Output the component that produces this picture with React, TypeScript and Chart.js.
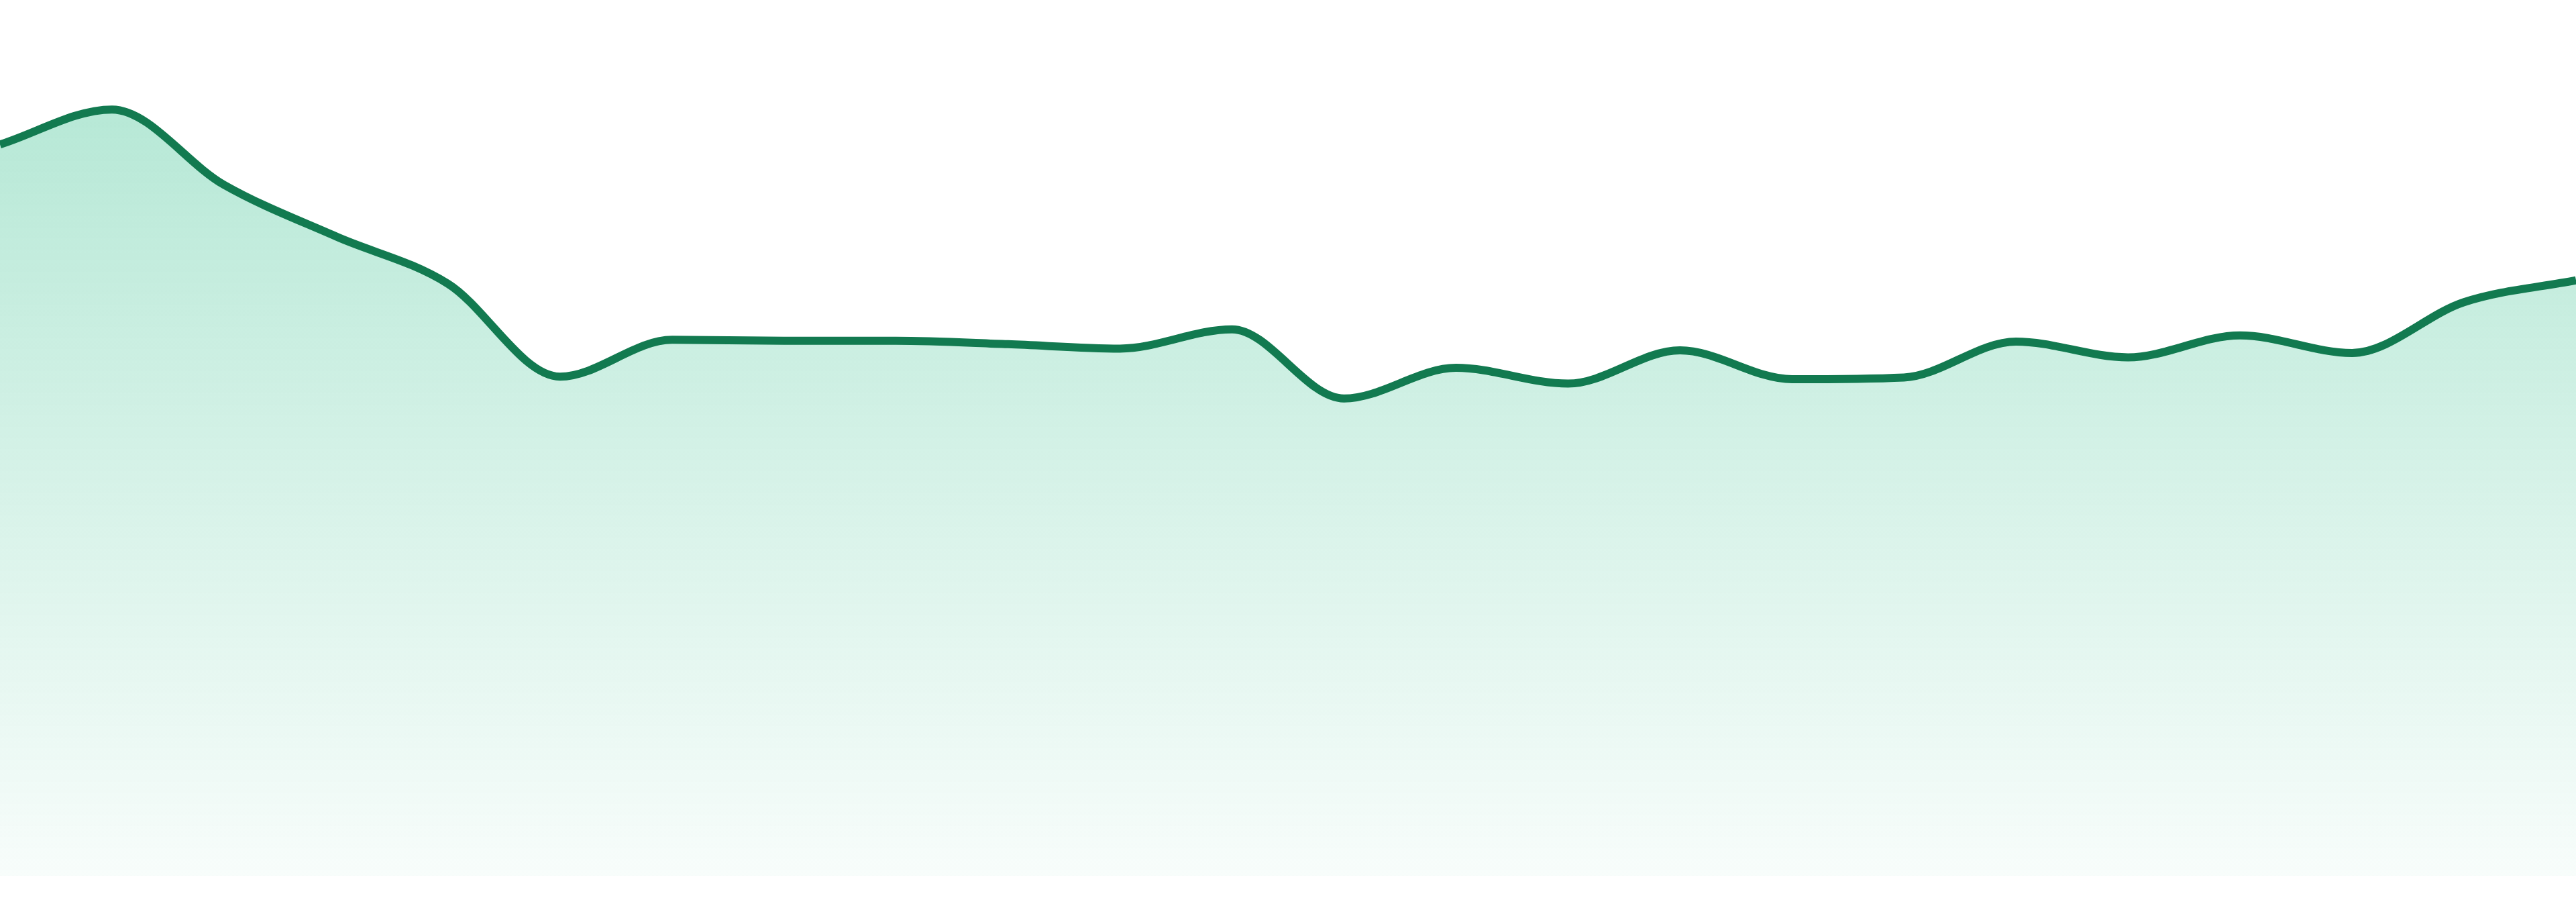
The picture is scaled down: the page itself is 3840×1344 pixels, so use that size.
import React, { useEffect, useRef } from "react";
import { Chart, registerables } from "chart.js";

Chart.register(...registerables);

// 24 evenly spaced samples, left edge to right edge
const labels: string[] = [
  "1", "2", "3", "4", "5", "6", "7", "8", "9", "10", "11", "12",
  "13", "14", "15", "16", "17", "18", "19", "20", "21", "22", "23", "24",
];

const values: number[] = [
  83.5, 87.5, 78.9, 73.0, 67.6, 57.0, 61.2, 61.1, 61.1, 60.7, 60.2, 62.4,
  54.5, 58.0, 56.2, 60.0, 56.7, 56.9, 61.0, 59.2, 61.7, 59.7, 65.5, 68.0,
];

const yMin = 0;
const yMax = 100;

const LINE = "#127a50";

export default function App() {
  const canvasRef = useRef<HTMLCanvasElement | null>(null);

  useEffect(() => {
    const canvas = canvasRef.current;
    if (!canvas) return;

    const chart = new Chart(canvas, {
      type: "line",
      data: {
        labels,
        datasets: [
          {
            data: values,
            borderColor: LINE,
            borderWidth: 12,
            cubicInterpolationMode: "monotone",
            pointRadius: 0,
            fill: "start",
            backgroundColor: (ctx: any) => {
              const area = ctx.chart.chartArea;
              if (!area) return "rgba(16,180,120,0.2)";
              const g = ctx.chart.ctx.createLinearGradient(0, area.top, 0, area.bottom);
              g.addColorStop(0, "rgba(16,180,120,0.34)");
              g.addColorStop(1, "rgba(16,180,120,0.03)");
              return g;
            },
          },
        ],
      },
      options: {
        animation: false,
        responsive: false,
        devicePixelRatio: 1,
        plugins: {
          legend: { display: false },
          tooltip: { enabled: false },
        },
        scales: {
          x: { display: false },
          y: { display: false, min: yMin, max: yMax },
        },
      },
    });

    return () => chart.destroy();
  }, []);

  return (
    <div style={{ position: "fixed", left: 0, top: 0, width: "3840px", height: "1344px", background: "#fff" }}>
      <canvas
        ref={canvasRef}
        width={3840}
        height={1305}
        style={{ display: "block", width: "3840px", height: "1305px" }}
      />
    </div>
  );
}
